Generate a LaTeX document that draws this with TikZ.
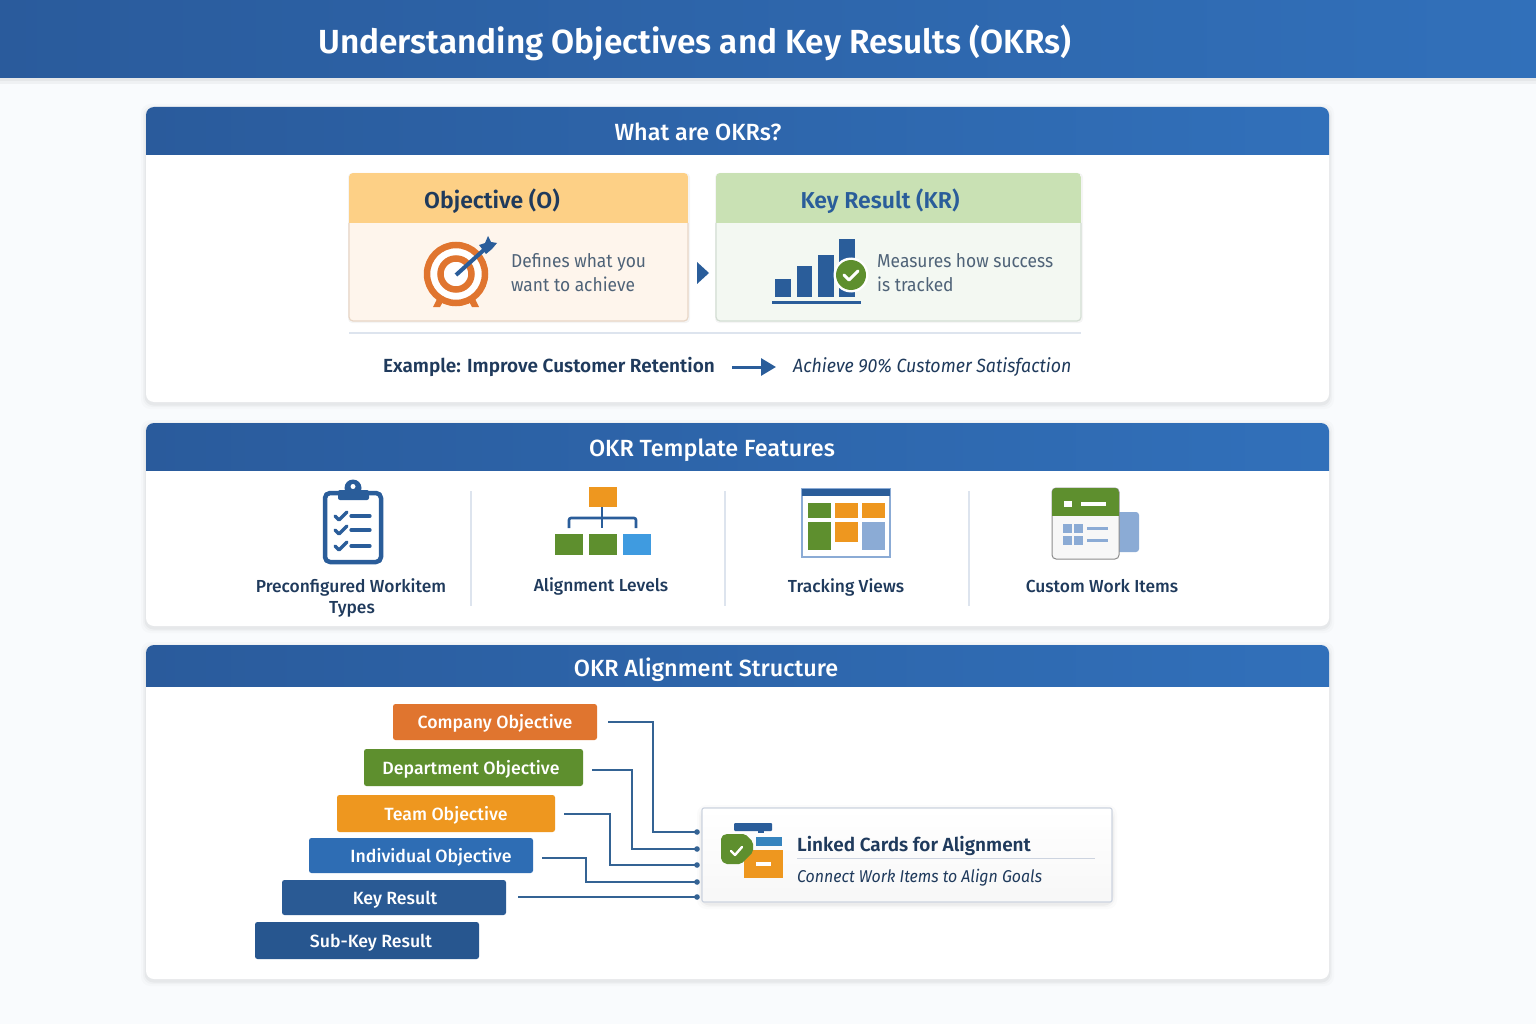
\documentclass[tikz,border=0pt]{standalone}
\usepackage{fontspec}
\setmainfont{Fira Sans}
\newfontfamily\med{Fira Sans Medium}
\newfontfamily\semi{Fira Sans SemiBold}
\newfontfamily\narrow[FakeStretch=0.93]{Fira Sans}
\usetikzlibrary{arrows.meta,calc,shadings}
\definecolor{pagebg}{HTML}{F9FBFD}
\definecolor{hdrA}{HTML}{2A5B9C}
\definecolor{hdrB}{HTML}{3170BA}
\definecolor{navy}{HTML}{1F3A5C}
\definecolor{bodytx}{HTML}{4F6378}
\definecolor{iconblue}{HTML}{2A5D9A}
\definecolor{lineblue}{HTML}{346394}
\definecolor{orgA}{HTML}{E0752F}
\definecolor{orgB}{HTML}{EE971F}
\definecolor{grn}{HTML}{5E8F2E}
\definecolor{sky}{HTML}{3F9BE0}
\definecolor{pale}{HTML}{8BABD5}
\definecolor{divider}{HTML}{DDE4EE}
\definecolor{objbody}{HTML}{FEF5EC}
\definecolor{objedge}{HTML}{E8D6C6}
\definecolor{objhead}{HTML}{FDD086}
\definecolor{krbody}{HTML}{F3F8F2}
\definecolor{kredge}{HTML}{D4DED4}
\definecolor{krhead}{HTML}{C9E1B4}
\definecolor{cardedge}{HTML}{CDD4E0}
\definecolor{lvlfour}{HTML}{2E6DB4}
\definecolor{lvlfive}{HTML}{2A5A94}
\definecolor{lvlsix}{HTML}{27568F}
\newcommand{\fs}[1]{\fontsize{#1}{#1}\selectfont}
\newcommand{\softbox}[4]{%
  \foreach \e/\o in {5/0.015,3/0.025,1.5/0.035}{
    \fill[black,opacity=\o,rounded corners=9] (#1-\e,#2-\e+2) rectangle (#3+\e,#4+\e+2);}}
\newcommand{\panel}[5]{% x1 y1 x2 y2 headerbottom
  \softbox{#1}{#2}{#3}{#4}
  \fill[white,rounded corners=8] (#1,#2) rectangle (#3,#4);
  \begin{scope}
    \clip[rounded corners=8] (#1,#2) rectangle (#3,#4);
    \shade[left color=hdrA,right color=hdrB] (#1,#2) rectangle (#3,#5);
  \end{scope}}
\newcommand{\headcard}[8]{% x1 y1 x2 y2 headbottom body edge head
  \fill[black,opacity=0.04,rounded corners=4] (#1-1,#2) rectangle (#3+2,#4+2);
  \fill[#6,rounded corners=4] (#1,#2) rectangle (#3,#4);
  \begin{scope}
    \clip[rounded corners=4] (#1,#2) rectangle (#3,#4);
    \fill[#8] (#1,#2) rectangle (#3,#5);
  \end{scope}
  \draw[#7,line width=1.2,rounded corners=4] (#1,#5) -- (#1,#4) -- (#3,#4) -- (#3,#5);}
\tikzset{
  paneltitle/.style={anchor=base,text=white,font=\fs{23.4}\med,inner sep=0},
  featlabel/.style={anchor=base,text=navy,font=\fs{17.4}\med,inner sep=0,align=center},
  bodylabel/.style={anchor=base west,text=bodytx,font=\fs{18.7}\narrow,inner sep=0},
  levelbox/.style={rounded corners=2.5,text=white,font=\fs{17.7}\med,inner sep=0,text height=15,text depth=2},
  linkline/.style={draw=lineblue,line width=1.6},
  linkdot/.style={fill=lineblue},
  divline/.style={draw=divider,line width=1.2},
  iconline/.style={draw=iconblue,line width=3.2,line cap=round,line join=round},
}
\begin{document}
\begin{tikzpicture}[x=1pt,y=-1pt]
\useasboundingbox (0,0) rectangle (1536,1024);
\fill[pagebg] (0,0) rectangle (1536,1024);
% top banner
\fill[black,opacity=0.04] (0,78) rectangle (1536,84);
\fill[black,opacity=0.04] (0,78) rectangle (1536,81);
\shade[left color=hdrA,right color=hdrB] (0,0) rectangle (1536,78);
\node[anchor=base,text=white,font=\fs{33.4}\semi,inner sep=0] (maintitle) at (695,54) {Understanding Objectives and Key Results (OKRs)};
% panels
\panel{146}{107}{1329}{402}{155}
\panel{146}{423}{1329}{626}{470}
\panel{146}{645}{1329}{979}{686}
\node[paneltitle] (t1) at (698,141) {What are OKRs?};
\node[paneltitle] (t2) at (712,456) {OKR Template Features};
\node[paneltitle] (t3) at (706,676) {OKR Alignment Structure};
% Objective card
\headcard{349}{173}{688}{321}{223}{objbody}{objedge}{objhead}
\node[anchor=base,text=navy,font=\fs{23}\semi,inner sep=0] (ot) at (492,209) {Objective (O)};
% target icon
\fill[orgA] (433,307) -- (439,295) -- (445,298) -- (440,307) -- cycle;
\fill[orgA] (479,307) -- (473,295) -- (467,298) -- (472,307) -- cycle;
\draw[orgA,line width=6.5,fill=white] (456,274) circle (29);
\draw[orgA,line width=6.5] (456,274) circle (15.5);
\draw[iconblue,line width=4] (456,275) -- (486,248);
\fill[iconblue] (479,245) -- (485,243) -- (488,236) -- (491,242) -- (497,243) -- (492,249) -- (486,254) -- cycle;
\node[bodylabel] (od1) at (511,268) {Defines what you};
\node[bodylabel] (od2) at (511,291) {want to achieve};
% arrow triangle
\fill[iconblue] (697,262) -- (709,273) -- (697,284) -- cycle;
% KR card
\headcard{716}{173}{1081}{321}{223}{krbody}{kredge}{krhead}
\node[anchor=base,text=iconblue,font=\fs{23}\semi,inner sep=0] (kt) at (880,209) {Key Result (KR)};
\fill[iconblue] (775,279) rectangle (791,297);
\fill[iconblue] (797,266) rectangle (812,297);
\fill[iconblue] (818,255) rectangle (834,297);
\fill[iconblue] (839,239) rectangle (855,297);
\fill[iconblue] (772,301) rectangle (861,304);
\fill[white] (851,275) circle (17.5);
\fill[grn] (851,275) circle (15);
\draw[white,line width=3,line cap=round,line join=round] (844,275) -- (849,280) -- (858,271);
\node[bodylabel] (kd1) at (877,268) {Measures how success};
\node[bodylabel] (kd2) at (877,291) {is tracked};
% example row
\draw[divline] (349,333) -- (1081,333);
\node[anchor=base west,text=navy,font=\fs{19}\semi,inner sep=0] (exa) at (383,372) {Example: Improve Customer Retention};
\node[anchor=base west,text=navy,font=\fs{19.1}\narrow\itshape,inner sep=0] (exb) at (793,372) {Achieve 90\% Customer Satisfaction};
\coordinate (exs) at (732,367);
\coordinate (exe) at (776,367);
\draw[iconblue,line width=3,-{Triangle[length=15,width=17]}] (exs) -- (exe);
% feature dividers
\draw[divline] (471,491) -- (471,606);
\draw[divline] (725,491) -- (725,606);
\draw[divline] (969,491) -- (969,606);
% clipboard
\draw[iconline,line width=4.5,rounded corners=5,fill=white] (325,493) rectangle (381,562);
\fill[iconblue,rounded corners=2] (338,490) rectangle (369,500);
\fill[iconblue] (353,488) circle (8.5);
\fill[white] (353,486.5) circle (2.5);
\foreach \y in {516,530,546}{
  \draw[iconline] (335,\y) -- (339,\y+4) -- (347,\y-4);
  \draw[iconline] (351,\y) -- (370,\y);
}
\node[featlabel] (f1) at (351,592) {Preconfigured Workitem};
\node[featlabel] (f1b) at (352,613) {Types};
% alignment icon
\fill[orgB] (589,487) rectangle (617,507);
\draw[iconblue,line width=2.6,rounded corners=2] (569,528) -- (569,518) -- (636,518) -- (636,528);
\draw[iconblue,line width=2.6] (602,507) -- (602,528);
\fill[grn] (555,534) rectangle (583,555);
\fill[grn] (589,534) rectangle (617,555);
\fill[sky] (623,534) rectangle (651,555);
\node[featlabel] (f2) at (601,591) {Alignment Levels};
% tracking icon
\filldraw[fill=white,draw=pale,line width=1.2] (802,489) rectangle (890,557);
\fill[iconblue] (802,489) rectangle (890,496);
\fill[grn] (808,503) rectangle (831,518);
\fill[orgB] (835,503) rectangle (858,518);
\fill[orgB] (862,503) rectangle (885,518);
\fill[grn] (808,522) rectangle (831,550);
\fill[orgB] (835,522) rectangle (858,542);
\fill[pale] (862,522) rectangle (885,550);
\node[featlabel] (f3) at (846,592) {Tracking Views};
% custom items icon
\fill[pale,rounded corners=3] (1110,512) rectangle (1139,552);
\filldraw[fill=black!3!white,draw=black!45!white,line width=1,rounded corners=4] (1052,488) rectangle (1119,559);
\begin{scope}
  \clip[rounded corners=4] (1052,488) rectangle (1119,559);
  \fill[grn] (1052,488) rectangle (1119,516);
\end{scope}
\fill[white] (1064,501) rectangle (1072,507);
\fill[white] (1081,502) rectangle (1106,506);
\foreach \x in {1063,1074}{\foreach \y in {524,536}{\fill[pale] (\x,\y) rectangle (\x+8.5,\y+8.5);}}
\fill[pale] (1087,526.5) rectangle (1108,529.5);
\fill[pale] (1087,538.5) rectangle (1108,541.5);
\node[featlabel] (f4) at (1102,592) {Custom Work Items};
% level boxes
\node[levelbox,fill=orgA,minimum width=204,minimum height=36] (l1) at (495,722) {Company Objective};
\node[levelbox,fill=grn,minimum width=219,minimum height=37] (l2) at (473.5,767.5) {Department Objective\hspace*{5pt}};
\node[levelbox,fill=orgB,minimum width=218,minimum height=37] (l3) at (446,813.5) {Team Objective};
\node[levelbox,fill=lvlfour,minimum width=224,minimum height=35] (l4) at (421,855.5) {\hspace*{20pt}Individual Objective};
\node[levelbox,fill=lvlfive,minimum width=224,minimum height=35] (l5) at (394,897.5) {\hspace*{2pt}Key Result};
\node[levelbox,fill=lvlsix,minimum width=224,minimum height=37] (l6) at (367,940.5) {\hspace*{8pt}Sub-Key Result};
% link card
\softbox{702}{808}{1112}{902}
\shade[top color=white,bottom color=black!3!white,rounded corners=2] (702,808) rectangle (1112,902);
\draw[cardedge,line width=1.2,rounded corners=2] (702,808) rectangle (1112,902);
\fill[iconblue,rounded corners=1] (734,823) rectangle (772,831);
\fill[iconblue] (758,831) rectangle (764,833);
\fill[sky!85!black] (756,837) rectangle (782,846);
\fill[orgB] (744,850) rectangle (783,878);
\fill[white] (756,862) rectangle (771,866);
\fill[grn,rounded corners=2] (721,837) -- (725,834) -- (745,834) -- (753,842) -- (753,852) -- (741,864) -- (725,864) -- (721,860) -- cycle;
\draw[white,line width=2.4,line cap=round,line join=round] (731,851) -- (735,855) -- (742,847);
\node[anchor=base west,text=navy,font=\fs{19}\semi,inner sep=0] (lc) at (797,851) {Linked Cards for Alignment};
\draw[cardedge,line width=1.2] (797,858.5) -- (1095,858.5);
\node[anchor=base west,text=navy,font=\fs{17.1}\narrow\itshape,inner sep=0] (ld) at (797,882) {Connect Work Items to Align Goals};
% connectors
\coordinate (c1) at (608,722); \coordinate (d1) at (697,832);
\coordinate (c2) at (592,770); \coordinate (d2) at (697,849);
\coordinate (c3) at (564,814); \coordinate (d3) at (697,865);
\coordinate (c4) at (542,858); \coordinate (d4) at (697,882);
\coordinate (c5) at (518,897); \coordinate (d5) at (697,897);
\draw[linkline] (c1) -- (653,722) |- (d1);
\draw[linkline] (c2) -- (632,770) |- (d2);
\draw[linkline] (c3) -- (610,814) |- (d3);
\draw[linkline] (c4) -- (586,858) |- (d4);
\draw[linkline] (c5) -- (d5);
\foreach \d in {d1,d2,d3,d4,d5}{\fill[linkdot] (\d) circle (2.8);}
\end{tikzpicture}
\end{document}
